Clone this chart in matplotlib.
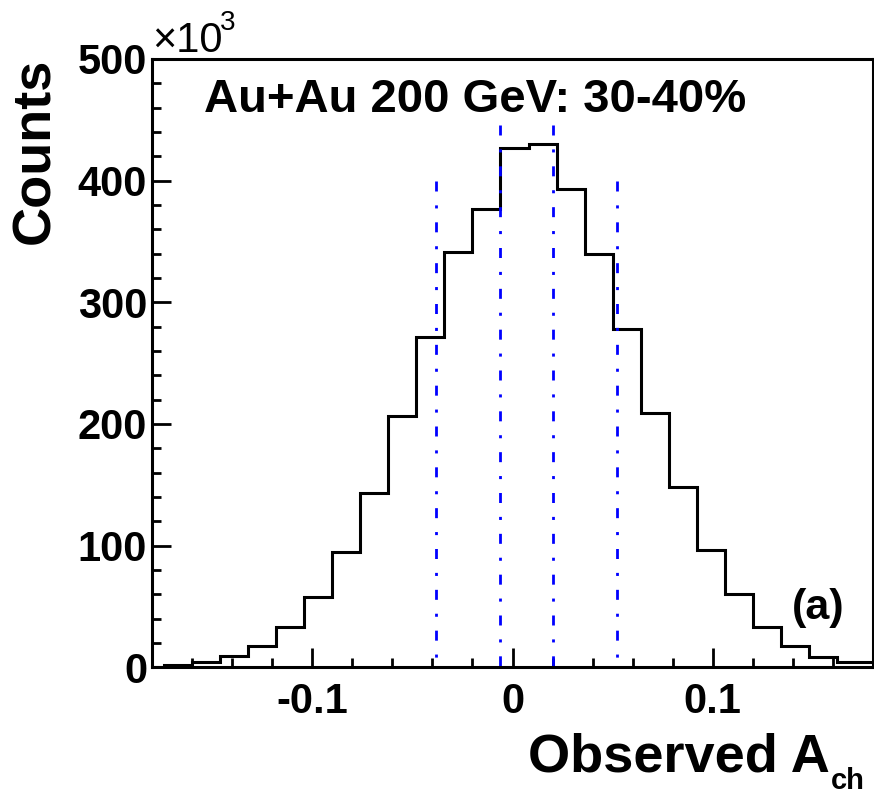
import matplotlib
matplotlib.use("Agg")
import matplotlib.pyplot as plt
from matplotlib.ticker import MultipleLocator

plt.rcParams["font.family"] = ["Liberation Sans", "DejaVu Sans"]
plt.rcParams["font.weight"] = "bold"
plt.rcParams["axes.unicode_minus"] = False

# histogram of observed A_ch, counts in units of 10^3
edges = [-0.188, -0.174, -0.160, -0.146, -0.132, -0.118, -0.104, -0.090,
         -0.076, -0.062, -0.048, -0.034, -0.020, -0.006, 0.008, 0.022,
         0.036, 0.050, 0.064, 0.078, 0.092, 0.106, 0.120, 0.134, 0.148,
         0.162, 0.176, 0.190]
counts = [0.5, 2.0, 4.4, 9.6, 17.8, 33.4, 58.0, 95.0, 143.0, 206.6, 271.5,
          341.0, 376.5, 427.0, 430.4, 393.0, 339.5, 278.0, 208.8, 148.0,
          96.4, 60.0, 33.4, 17.8, 8.7, 4.1, 4.1]

# dash-dotted markers of the A_ch classes
cut_x   = [-0.038, -0.006, 0.020, 0.052]
cut_top = [400, 446, 446, 400]

xticks      = [-0.1, 0.0, 0.1]
xticklabels = ["-0.1", "0", "0.1"]
yticks      = [0, 100, 200, 300, 400, 500]

W, H = 874, 795


def fx(px):
    return px / W


def fy(py):
    return 1 - py / H


fig = plt.figure(figsize=(W / 100, H / 100), dpi=100)
ax = fig.add_axes([fx(152), fy(667.3), fx(873) - fx(152), fy(59) - fy(667.3)])

ax.stairs(counts, edges, color="black", linewidth=2.2, baseline=0)

for x, top in zip(cut_x, cut_top):
    ax.plot([x, x], [top, 0], color="blue", linewidth=2.0,
            linestyle=(0, (3.6, 5, 1.1, 5)))

ax.set_xlim(-0.18, 0.18)
ax.set_ylim(0, 500)
ax.set_xticks(xticks)
ax.set_xticklabels(xticklabels)
ax.set_yticks(yticks)
ax.set_yticklabels([str(v) for v in yticks])
ax.xaxis.set_minor_locator(MultipleLocator(0.02))
ax.yaxis.set_minor_locator(MultipleLocator(20))

for sp in ax.spines.values():
    sp.set_linewidth(2.2)

ax.tick_params(which="both", direction="in", top=False, right=False, width=2.0)
ax.tick_params(which="major", length=13.5, labelsize=30)
ax.tick_params(which="minor", length=6.5)
ax.tick_params(axis="x", which="major", pad=10.5)
ax.tick_params(axis="y", which="major", pad=3.6)

# texts
fig.text(fx(35), fy(58), "Counts", rotation=90, ha="center", va="top",
         fontsize=39, fontweight="bold")
fig.text(fx(830), fy(771), "Observed A", ha="right", va="baseline",
         fontsize=39, fontweight="bold")
fig.text(fx(831), fy(789), "ch", ha="left", va="baseline",
         fontsize=21, fontweight="bold")
fig.text(fx(152), fy(52), "\u00d710", ha="left", va="baseline",
         fontsize=30, fontweight="normal")
fig.text(fx(220), fy(30), "3", ha="left", va="baseline",
         fontsize=20, fontweight="normal")
fig.text(fx(204), fy(112), "Au+Au 200 GeV: 30-40%", ha="left", va="baseline",
         fontsize=34, fontweight="bold")
fig.text(fx(792), fy(619), "(a)", ha="left", va="baseline",
         fontsize=31, fontweight="bold")

fig.savefig("out.png", dpi=100)
